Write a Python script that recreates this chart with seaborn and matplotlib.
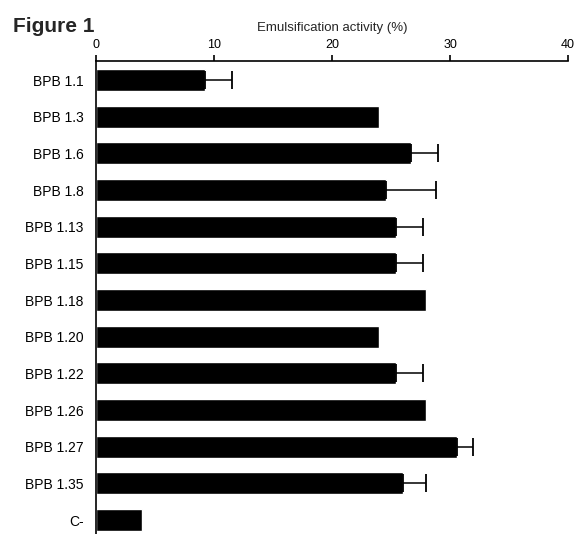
import numpy as np
import pandas as pd
import matplotlib
matplotlib.use('Agg')
import matplotlib.pyplot as plt
import seaborn as sns

sns.set_theme(style="white")
plt.rcParams['font.family'] = ['Liberation Sans', 'DejaVu Sans']

# values
strains = ['BPB 1.1', 'BPB 1.3', 'BPB 1.6', 'BPB 1.8', 'BPB 1.13', 'BPB 1.15',
           'BPB 1.18', 'BPB 1.20', 'BPB 1.22', 'BPB 1.26', 'BPB 1.27', 'BPB 1.35', 'C-']
activity = [9.2, 24.0, 26.7, 24.6, 25.4, 25.4, 28.0, 24.0, 25.4, 28.0, 30.6, 26.0, 3.9]
sd = [2.3, 0.0, 2.3, 4.2, 2.3, 2.3, 0.0, 0.0, 2.3, 0.0, 1.3, 2.0, 0.0]
xticks = [0, 10, 20, 30, 40]

df = pd.DataFrame({'strain': strains, 'activity': activity, 'sd': sd})

fig = plt.figure(figsize=(5.8, 5.34), dpi=100)
ax = fig.add_axes([0.1655, 0.0, 0.814, 0.8858])

sns.barplot(data=df, x='activity', y='strain', orient='h', color='black',
            width=0.6, saturation=1, ax=ax)

# one-sided error bars, only where an SD is shown
has_err = df['sd'] > 0
ypos = np.arange(len(df))[has_err]
ax.errorbar(df.loc[has_err, 'activity'], ypos,
            xerr=[np.zeros(has_err.sum()), df.loc[has_err, 'sd']],
            fmt='none', ecolor='black', elinewidth=1.1, capsize=6.5, capthick=1.3)

ax.set_xlim(0, 40)
ax.set_ylim(12.38, -0.52)
ax.set_xticks(xticks)
ax.xaxis.tick_top()
ax.xaxis.set_label_position('top')
ax.set_xlabel('Emulsification activity (%)', fontsize=9.5, labelpad=6)
ax.set_ylabel('')
ax.tick_params(axis='x', direction='out', length=4, width=1.2, pad=3, labelsize=9, colors='black')
ax.tick_params(axis='y', length=0, pad=9, labelsize=10, colors='black')

for side in ['right', 'bottom']:
    ax.spines[side].set_visible(False)
for side in ['top', 'left']:
    ax.spines[side].set_linewidth(1.2)
    ax.spines[side].set_color('black')

fig.text(0.022, 0.95, 'Figure 1', fontsize=15, fontweight='bold', ha='left', va='center')

fig.savefig('out.png', dpi=100)
